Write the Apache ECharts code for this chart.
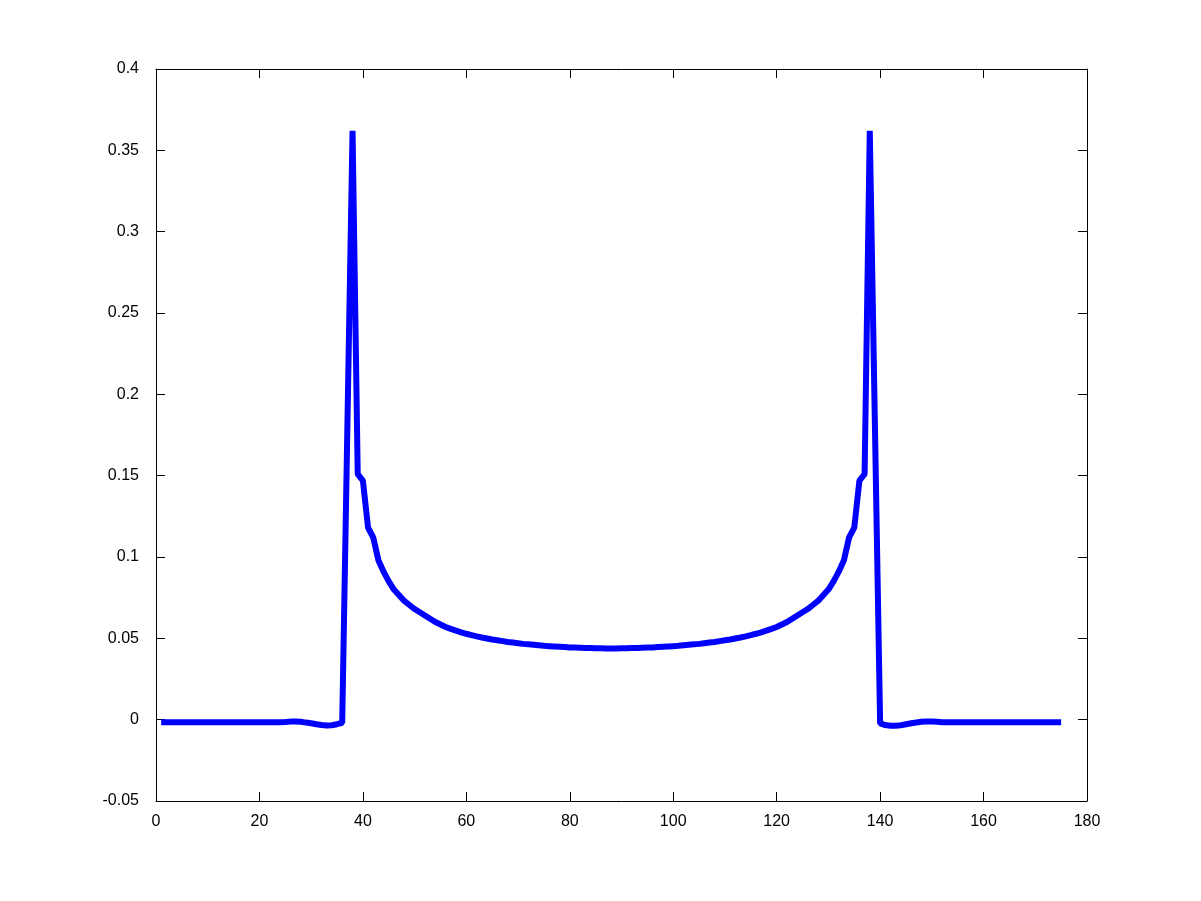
<!DOCTYPE html>
<html>
<head>
<meta charset="utf-8">
<script src="https://cdn.jsdelivr.net/npm/echarts@6/dist/echarts.min.js"></script>
<style>
  html, body { margin: 0; padding: 0; background: #fff; }
  #main { width: 1201px; height: 901px; }
</style>
</head>
<body>
<div id="main"></div>
<script>
// sample values, index 1..175
var baseLeft = [
    -0.0016, -0.0016, -0.0016, -0.0016, -0.0016, -0.0016, -0.0016, -0.0016, -0.0016, -0.0016,
    -0.0016, -0.0016, -0.0016, -0.0016, -0.0016, -0.0016, -0.0016, -0.0016, -0.0016, -0.0016,
    -0.0016, -0.0016, -0.0016, -0.0016, -0.0015, -0.0012, -0.0011, -0.0013, -0.0018, -0.0022,
    -0.0028, -0.0033, -0.0036, -0.0034, -0.0028, -0.0019
];
var middle = [
    0.18, 0.362, 0.151, 0.147, 0.118, 0.112, 0.098, 0.091, 0.085, 0.080,
    0.0765, 0.073, 0.0705, 0.068, 0.066, 0.064, 0.062, 0.060, 0.0585, 0.057,
    0.0558, 0.0547, 0.0537, 0.0528, 0.052, 0.0512, 0.0505, 0.0499, 0.0493, 0.0488,
    0.0483, 0.0478, 0.0474, 0.047, 0.0466, 0.0463, 0.046, 0.0457, 0.0454, 0.0452,
    0.045, 0.0448, 0.0446, 0.0444, 0.0443, 0.0442, 0.0441, 0.044, 0.0439, 0.0439,
    0.0438, 0.0438, 0.0438, 0.0439, 0.0439, 0.044, 0.0441, 0.0442, 0.0443, 0.0444,
    0.0446, 0.0448, 0.045, 0.0452, 0.0454, 0.0457, 0.046, 0.0463, 0.0466, 0.047,
    0.0474, 0.0478, 0.0483, 0.0488, 0.0493, 0.0499, 0.0505, 0.0512, 0.052, 0.0528,
    0.0537, 0.0547, 0.0558, 0.057, 0.0585, 0.06, 0.062, 0.064, 0.066, 0.068,
    0.0705, 0.073, 0.0765, 0.08, 0.085, 0.091, 0.098, 0.112, 0.118, 0.147,
    0.151, 0.362, 0.18
];
var baseRight = [
    -0.0023, -0.0033, -0.0037, -0.0038, -0.0034, -0.0028, -0.0022, -0.0017, -0.0013, -0.0011,
    -0.0012, -0.0013, -0.0016, -0.0016, -0.0016, -0.0016, -0.0016, -0.0016, -0.0016, -0.0016,
    -0.0016, -0.0016, -0.0016, -0.0016, -0.0016, -0.0016, -0.0016, -0.0016, -0.0016, -0.0016,
    -0.0016, -0.0016, -0.0016, -0.0016, -0.0016, -0.0016
];
var xTicks = [0, 20, 40, 60, 80, 100, 120, 140, 160, 180];
var yTicks = [-0.05, 0, 0.05, 0.1, 0.15, 0.2, 0.25, 0.3, 0.35, 0.4];

var ys = baseLeft.concat(middle, baseRight);
var points = [];
for (var i = 0; i < ys.length; i++) {
    points.push([i + 1, ys[i]]);
}

var chart = echarts.init(document.getElementById('main'));

var labelFont = {
    color: '#000',
    fontFamily: 'Liberation Sans, Arial, sans-serif',
    fontSize: 16
};

function xAxisDef(pos, showLabel) {
    return {
        type: 'value',
        position: pos,
        min: xTicks[0],
        max: xTicks[xTicks.length - 1],
        interval: 20,
        axisLine: { show: true, onZero: false, lineStyle: { color: '#000', width: 1 } },
        axisTick: { show: true, inside: true, length: 9, lineStyle: { color: '#000' } },
        axisLabel: Object.assign({ show: showLabel, margin: 13 }, labelFont),
        splitLine: { show: false }
    };
}

function yAxisDef(pos, showLabel) {
    return {
        type: 'value',
        position: pos,
        min: yTicks[0],
        max: yTicks[yTicks.length - 1],
        interval: 0.05,
        axisLine: { show: true, onZero: false, lineStyle: { color: '#000', width: 1 } },
        axisTick: { show: true, inside: true, length: 9, lineStyle: { color: '#000' } },
        axisLabel: Object.assign({
            show: showLabel,
            margin: 17,
            formatter: function (v) { return String(+v.toFixed(2)); }
        }, labelFont),
        splitLine: { show: false }
    };
}

var option = {
    animation: false,
    backgroundColor: '#fff',
    grid: { left: 156, right: 114, top: 69, bottom: 100 },
    xAxis: [xAxisDef('bottom', true), xAxisDef('top', false)],
    yAxis: [yAxisDef('left', true), yAxisDef('right', false)],
    series: [
        {
            type: 'line',
            xAxisIndex: 0,
            yAxisIndex: 0,
            data: points,
            showSymbol: false,
            lineStyle: { color: '#0000ff', width: 6 }
        }
    ]
};
chart.setOption(option);
</script>
</body>
</html>
